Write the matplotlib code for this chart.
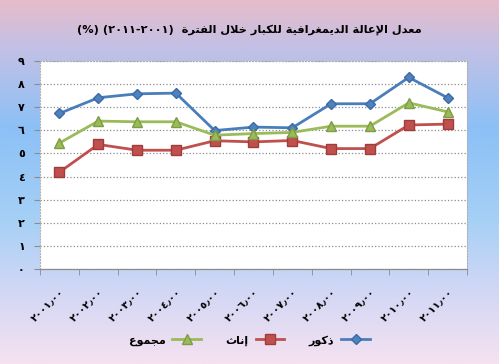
import matplotlib.pyplot as plt
import numpy as np

# data
x_labels = ['٢٠٠١٫٠٠', '٢٠٠٢٫٠٠', '٢٠٠٣٫٠٠', '٢٠٠٤٫٠٠', '٢٠٠٥٫٠٠', '٢٠٠٦٫٠٠',
            '٢٠٠٧٫٠٠', '٢٠٠٨٫٠٠', '٢٠٠٩٫٠٠', '٢٠١٠٫٠٠', '٢٠١١٫٠٠']
y_labels = ['٠', '١', '٢', '٣', '٤', '٥', '٦', '٧', '٨', '٩']
males = [6.73, 7.41, 7.58, 7.61, 5.99, 6.14, 6.11, 7.15, 7.15, 8.29, 7.41]
females = [4.19, 5.39, 5.14, 5.14, 5.55, 5.50, 5.56, 5.21, 5.21, 6.23, 6.27]
total = [5.45, 6.40, 6.37, 6.37, 5.79, 5.86, 5.91, 6.18, 6.18, 7.19, 6.80]

title_ar = 'معدل الإعالة الديمغرافية للكبار خلال الفترة'
title_num = '(%) (٢٠١١-٢٠٠١)  '
name_m = 'ذكور'
name_f = 'إناث'
name_t = 'مجموع'

# minimal arabic shaping (matplotlib has no complex text layout)
# letter: (isolated, final, initial, medial)
FORMS = {
    'ا': (0xFE8D, 0xFE8E, None, None), 'إ': (0xFE87, 0xFE88, None, None),
    'ب': (0xFE8F, 0xFE90, 0xFE91, 0xFE92), 'ة': (0xFE93, 0xFE94, None, None),
    'ت': (0xFE95, 0xFE96, 0xFE97, 0xFE98), 'ث': (0xFE99, 0xFE9A, 0xFE9B, 0xFE9C),
    'ج': (0xFE9D, 0xFE9E, 0xFE9F, 0xFEA0), 'خ': (0xFEA5, 0xFEA6, 0xFEA7, 0xFEA8),
    'د': (0xFEA9, 0xFEAA, None, None), 'ذ': (0xFEAB, 0xFEAC, None, None),
    'ر': (0xFEAD, 0xFEAE, None, None), 'ع': (0xFEC9, 0xFECA, 0xFECB, 0xFECC),
    'غ': (0xFECD, 0xFECE, 0xFECF, 0xFED0), 'ف': (0xFED1, 0xFED2, 0xFED3, 0xFED4),
    'ك': (0xFED9, 0xFEDA, 0xFEDB, 0xFEDC), 'ل': (0xFEDD, 0xFEDE, 0xFEDF, 0xFEE0),
    'م': (0xFEE1, 0xFEE2, 0xFEE3, 0xFEE4), 'ن': (0xFEE5, 0xFEE6, 0xFEE7, 0xFEE8),
    'و': (0xFEED, 0xFEEE, None, None), 'ي': (0xFEF1, 0xFEF2, 0xFEF3, 0xFEF4),
}
LAM_ALEF = {'ا': (0xFEFB, 0xFEFC, None, None), 'إ': (0xFEF9, 0xFEFA, None, None)}


def shape(text):
    units = []
    i = 0
    while i < len(text):
        c = text[i]
        if c == 'ل' and i + 1 < len(text) and text[i + 1] in LAM_ALEF:
            units.append(LAM_ALEF[text[i + 1]])
            i += 2
        else:
            units.append(FORMS.get(c, c))
            i += 1
    out = []
    for k, u in enumerate(units):
        if isinstance(u, str):
            out.append(u)
            continue
        prev = units[k - 1] if k > 0 else None
        nxt = units[k + 1] if k + 1 < len(units) else None
        jp = isinstance(prev, tuple) and prev[2] is not None
        jn = isinstance(nxt, tuple) and u[2] is not None
        if jp and jn:
            code = u[3]
        elif jp:
            code = u[1]
        elif jn:
            code = u[2]
        else:
            code = u[0]
        out.append(chr(code))
    return ''.join(out[::-1])


plt.rcParams['font.family'] = ['DejaVu Sans']
plt.rcParams['font.weight'] = 'bold'

fig = plt.figure(figsize=(4.99, 3.64), dpi=100)

# gradient background
bg = fig.add_axes([0, 0, 1, 1], zorder=-1)
stops = np.array([0.0, 0.13, 0.35, 0.6, 0.8, 1.0])
cols = np.array([[230, 188, 202], [195, 192, 230], [140, 192, 246],
                 [165, 208, 246], [210, 215, 245], [245, 226, 240]]) / 255.0
t = np.linspace(0, 1, 200)
grad = np.stack([np.interp(t, stops, cols[:, j]) for j in range(3)], axis=1)
bg.imshow(grad[:, None, :], aspect='auto', extent=[0, 1, 0, 1])
bg.axis('off')

ax = fig.add_axes([40 / 499, 1 - 269 / 364, 427 / 499, 208 / 364])
ax.set_facecolor('white')
x = np.arange(len(x_labels))

ax.plot(x, males, color='#4A7EBB', lw=2, marker='D', ms=5.5,
        mfc='#4F81BD', mec='#3A6BA8', label=shape(name_m))
ax.plot(x, females, color='#C0504D', lw=2, marker='s', ms=6.5,
        mfc='#C0504D', mec='#A03C3A', label=shape(name_f))
ax.plot(x, total, color='#9BBB59', lw=2, marker='^', ms=7,
        mfc='#9BBB59', mec='#7E9C45', label=shape(name_t))

ax.set_xlim(-0.5, len(x_labels) - 0.5)
ax.set_ylim(0, 9)
ax.set_yticks(range(10))
ax.set_yticklabels(y_labels, fontsize=8, fontweight='bold')
ax.grid(axis='y', color='#8C8C8C', ls=':', lw=0.9)
ax.tick_params(axis='y', length=4, color='#8C8C8C', pad=7)

ax.set_xticks(x)
ax.set_xticklabels(x_labels, rotation=45, ha='right', va='top',
                   rotation_mode='anchor', fontsize=7.5, fontweight='bold')
ax.set_xticks(np.arange(-0.5, len(x_labels)), minor=True)
ax.tick_params(axis='x', which='major', length=0, pad=13)
ax.tick_params(axis='x', which='minor', length=4, color='#8C8C8C')

for s in ['top', 'right', 'left']:
    ax.spines[s].set_color('#B0B0B0')
    ax.spines[s].set_linestyle(':')
    ax.spines[s].set_linewidth(0.8)
ax.spines['bottom'].set_color('#8C8C8C')
ax.spines['bottom'].set_linewidth(0.9)

fig.text(0.5, 0.92, title_num + shape(title_ar), ha='center', va='center',
         fontsize=8.2, fontweight='bold')

h, l = ax.get_legend_handles_labels()
fig.legend(h[::-1], l[::-1], loc='center', bbox_to_anchor=(0.5, 0.065),
           ncol=3, frameon=False, markerfirst=False, fontsize=8,
           handlelength=2.6, columnspacing=2.2, handletextpad=0.6)

plt.savefig('out.png', dpi=100)
